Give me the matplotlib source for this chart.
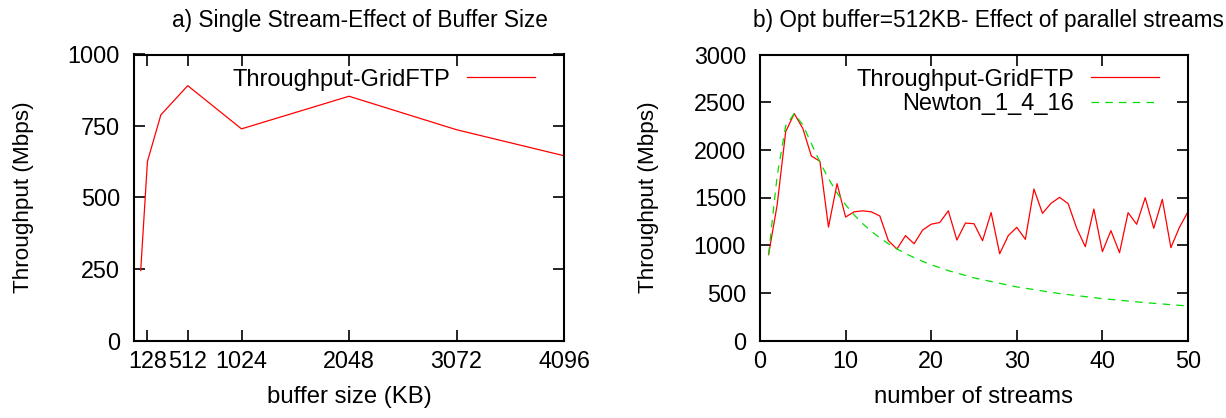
import matplotlib
matplotlib.use("Agg")
import matplotlib.pyplot as plt

plt.rcParams['font.family'] = ['Liberation Sans', 'DejaVu Sans']

# ---- data: panel a ----
buffer_kb = [64, 128, 256, 512, 1024, 2048, 3072, 4096]
throughput_a = [245, 626, 789, 891, 740, 854, 737, 646]
xticks_a = [128, 512, 1024, 2048, 3072, 4096]
yticks_a = [0, 250, 500, 750, 1000]

# ---- data: panel b ----
streams = list(range(1, 51))
throughput_b = [900, 1420, 2190, 2380, 2225, 1935, 1880, 1190, 1645, 1295,
                1350, 1360, 1350, 1306, 1047, 960, 1100, 1015, 1159, 1220,
                1238, 1360, 1054, 1232, 1225, 1047, 1342, 910, 1100, 1187,
                1061, 1589, 1334, 1439, 1502, 1435, 1177, 984, 1379, 932,
                1152, 921, 1341, 1219, 1498, 1177, 1481, 974, 1187, 1351]
newton_x = [1, 2, 3, 4, 5, 6, 7, 8, 9, 10, 11, 12, 13, 14, 15, 16, 17, 18, 19,
            20, 22, 25, 30, 35, 40, 45, 50]
newton_y = [900, 1723, 2253, 2380, 2262, 2066, 1871, 1698, 1549, 1424, 1317,
            1225, 1146, 1076, 1015, 960, 913, 869, 830, 795, 733, 657, 562,
            492, 439, 397, 362]
xticks_b = [0, 10, 20, 30, 40, 50]
yticks_b = [0, 500, 1000, 1500, 2000, 2500, 3000]

TICK_FS = 16.8
LAB_FS = 17.2
YLAB_FS = 16.2
LEG_FS = 17.0
TITLE_FS = 16.3
W, H = 1226, 418
fig = plt.figure(figsize=(W / 100, H / 100), dpi=100)

def style(ax):
    for s in ax.spines.values():
        s.set_linewidth(1.5)
    ax.tick_params(direction='in', length=7.7, width=1.2, labelsize=TICK_FS,
                   top=True, right=True)
    ax.tick_params(axis='x', pad=7)
    ax.tick_params(axis='y', pad=10)

axa = fig.add_axes([134 / W, 1 - 340.5 / H, 430 / W, 286 / H])
axa.plot(buffer_kb, throughput_a, color='#ff0000', lw=0.9, label='Throughput-GridFTP')
axa.set_xlim(0, 4096)
axa.set_ylim(0, 1000)
axa.set_xticks(xticks_a)
axa.set_yticks(yticks_a)
style(axa)
axa.set_xlabel('buffer size (KB)', fontsize=LAB_FS, labelpad=9)
axa.set_ylabel('Throughput (Mbps)', fontsize=YLAB_FS, labelpad=24)
axa.legend(loc='upper right', bbox_to_anchor=(0.983, 1.025), frameon=False,
           markerfirst=False, fontsize=LEG_FS, handlelength=2.9, handletextpad=0.7)

axb = fig.add_axes([760 / W, 1 - 340.5 / H, 428 / W, 286 / H])
axb.plot(streams, throughput_b, color='#ff0000', lw=0.9, label='Throughput-GridFTP')
axb.plot(newton_x, newton_y, color='#00e000', lw=0.9, dashes=(6, 5),
         label='Newton_1_4_16')
axb.set_xlim(0, 50)
axb.set_ylim(0, 3000)
axb.set_xticks(xticks_b)
axb.set_yticks(yticks_b)
style(axb)
axb.set_xlabel('number of streams', fontsize=LAB_FS, labelpad=9)
axb.set_ylabel('Throughput (Mbps)', fontsize=YLAB_FS, labelpad=25)
axb.legend(loc='upper right', bbox_to_anchor=(0.983, 1.025), frameon=False,
           markerfirst=False, fontsize=LEG_FS, handlelength=2.9, handletextpad=0.7,
           labelspacing=0.1)

fig.text(360 / W, 1 - 21 / H, 'a) Single Stream-Effect of Buffer Size',
         fontsize=TITLE_FS, ha='center', va='center')
fig.text(988 / W, 1 - 21 / H, 'b) Opt buffer=512KB- Effect of parallel streams',
         fontsize=TITLE_FS, ha='center', va='center')

fig.savefig('out.png', dpi=100)
